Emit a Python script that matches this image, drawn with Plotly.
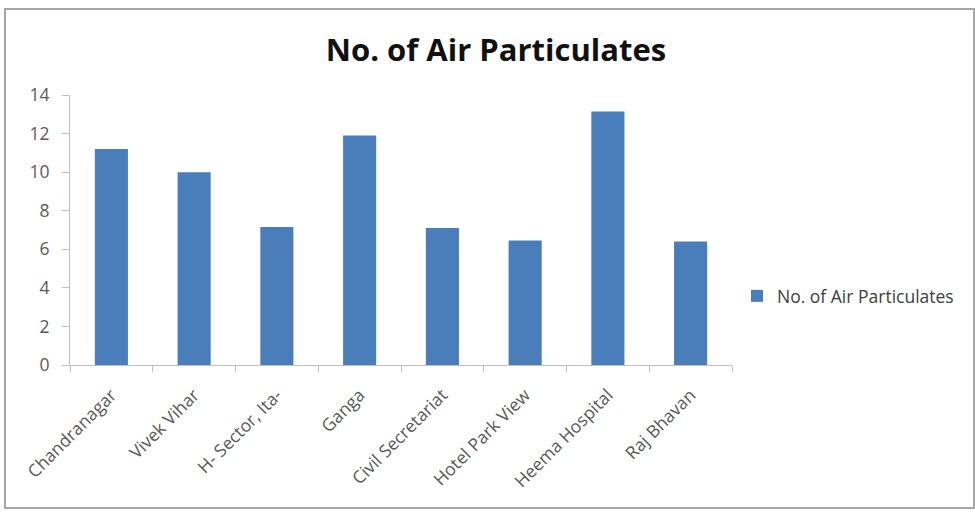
import plotly.graph_objects as go

# Sampling sites and particulate counts
sites = [
    "Chandranagar",
    "Vivek Vihar",
    "H- Sector, Ita-",
    "Ganga",
    "Civil Secretariat",
    "Hotel Park View",
    "Heema Hospital",
    "Raj Bhavan",
]
particulates = [11.2, 10.0, 7.15, 11.9, 7.1, 6.45, 13.15, 6.4]
series_name = "No. of Air Particulates"
y_ticks = [0, 2, 4, 6, 8, 10, 12, 14]

W, H = 975, 514
L, R, T, B = 70, 243, 95, 149
plot_w = W - L - R
plot_h = H - T - B


def px_to_paper_x(px):
    return (px - L) / plot_w


def px_to_paper_y(py):
    return (H - B - py) / plot_h


FONT = "Open Sans, Noto Sans, sans-serif"

fig = go.Figure()
fig.add_trace(
    go.Bar(
        x=sites,
        y=particulates,
        name=series_name,
        marker=dict(color="#4A7EBB", line=dict(width=0)),
        showlegend=True,
    )
)

axis_font = dict(family=FONT, size=17.5, color="#595959")

fig.update_layout(
    width=W,
    height=H,
    margin=dict(l=L, r=R, t=T, b=B, autoexpand=False),
    paper_bgcolor="white",
    plot_bgcolor="white",
    bargap=0.6,
    title=dict(
        text="<b>No. of Air Particulates</b>",
        x=496 / W,
        xanchor="center",
        y=1 - 50 / H,
        yanchor="middle",
        font=dict(family=FONT, size=31, color="#111111"),
    ),
    xaxis=dict(
        tickangle=-45,
        tickfont=axis_font,
        showline=True,
        linecolor="#BFBFBF",
        linewidth=1,
        ticks="outside",
        tickson="boundaries",
        ticklen=6,
        tickcolor="#BFBFBF",
        showgrid=False,
        zeroline=False,
        ticklabelstandoff=12,
    ),
    yaxis=dict(
        range=[0, 14],
        tickvals=y_ticks,
        ticktext=[str(v) for v in y_ticks],
        tickfont=axis_font,
        showline=True,
        linecolor="#BFBFBF",
        linewidth=1,
        ticks="outside",
        ticklen=7,
        tickcolor="#BFBFBF",
        showgrid=False,
        zeroline=False,
        ticklabelstandoff=9,
    ),
    legend=dict(
        x=px_to_paper_x(737),
        xanchor="left",
        y=px_to_paper_y(296),
        yanchor="middle",
        font=dict(family=FONT, size=17.5, color="#404040"),
        bgcolor="rgba(0,0,0,0)",
        itemwidth=30,
    ),
    shapes=[
        dict(
            type="rect",
            xref="paper",
            yref="paper",
            x0=px_to_paper_x(5),
            x1=px_to_paper_x(974),
            y0=px_to_paper_y(508),
            y1=px_to_paper_y(9),
            line=dict(color="#A6A6A6", width=2),
            fillcolor="rgba(0,0,0,0)",
            layer="below",
        )
    ],
)

fig.write_html("out.html")
